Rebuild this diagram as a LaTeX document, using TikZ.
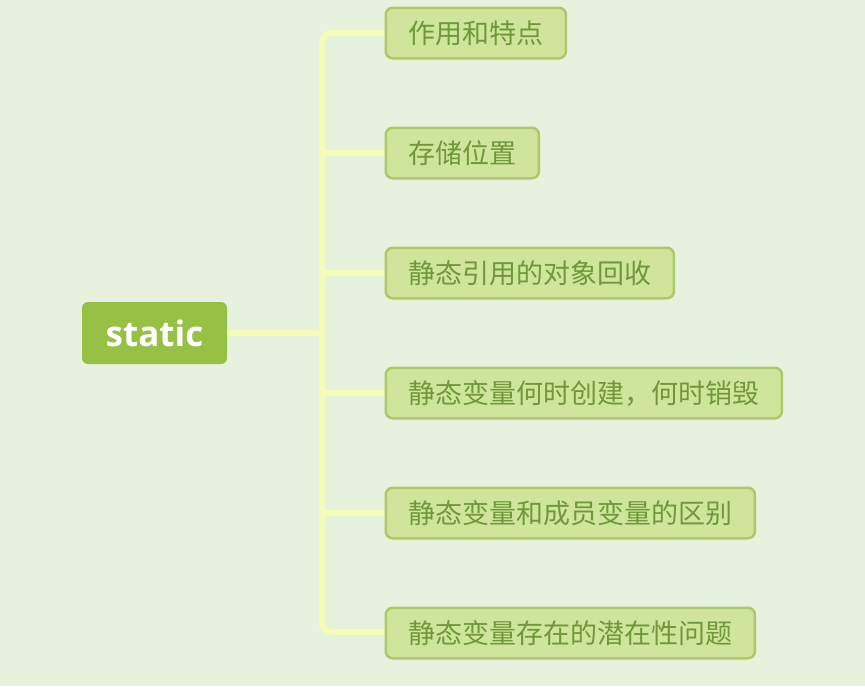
\documentclass[tikz,border=0pt]{standalone}
\usepackage{fontspec}
\newfontfamily\cjk{Noto Sans CJK SC}
\newfontfamily\rootfont{Open Sans}
\definecolor{bg}{RGB}{230,241,222}
\definecolor{rootfill}{RGB}{150,193,69}
\definecolor{childfill}{RGB}{207,229,155}
\definecolor{childborder}{RGB}{172,202,104}
\definecolor{childtext}{RGB}{112,152,58}
\definecolor{conncol}{RGB}{244,252,182}
\begin{document}
\begin{tikzpicture}[x=1pt,y=-1pt,
  rootbox/.style={fill=rootfill, rounded corners=6pt, minimum width=145pt, minimum height=62pt, inner sep=0pt, text=white, font=\rootfont\fontsize{35}{40}\selectfont\bfseries},
  childbox/.style={fill=childfill, draw=childborder, line width=2.5pt, rounded corners=7pt, minimum height=50.5pt, inner xsep=22.6pt, inner ysep=0pt, anchor=west, text=childtext, font=\cjk\fontsize{27}{30}\selectfont},
  conn/.style={draw=conncol, line width=6pt}]
\fill[bg] (0,0) rectangle (865,686);
\useasboundingbox (0,0) rectangle (865,686);
\coordinate (j) at (322,333);
\node[rootbox] (root) at (154.5,333) {static};
\draw[conn] (root.east) -- (j);
\draw[conn, rounded corners=10pt] (386,33) -| (j);
\draw[conn, rounded corners=10pt] (386,632) -| (j);
\foreach \yy in {153,273,393,513} \draw[conn] (j |- 0,\yy) -- (386,\yy);
\node[childbox] (c1) at (384.5,33) {作用和特点};
\node[childbox] (c2) at (384.5,153) {存储位置};
\node[childbox] (c3) at (384.5,273) {静态引用的对象回收};
\node[childbox] (c4) at (384.5,393) {静态变量何时创建，何时销毁};
\node[childbox] (c5) at (384.5,513) {静态变量和成员变量的区别};
\node[childbox] (c6) at (384.5,633) {静态变量存在的潜在性问题};
\end{tikzpicture}
\end{document}
